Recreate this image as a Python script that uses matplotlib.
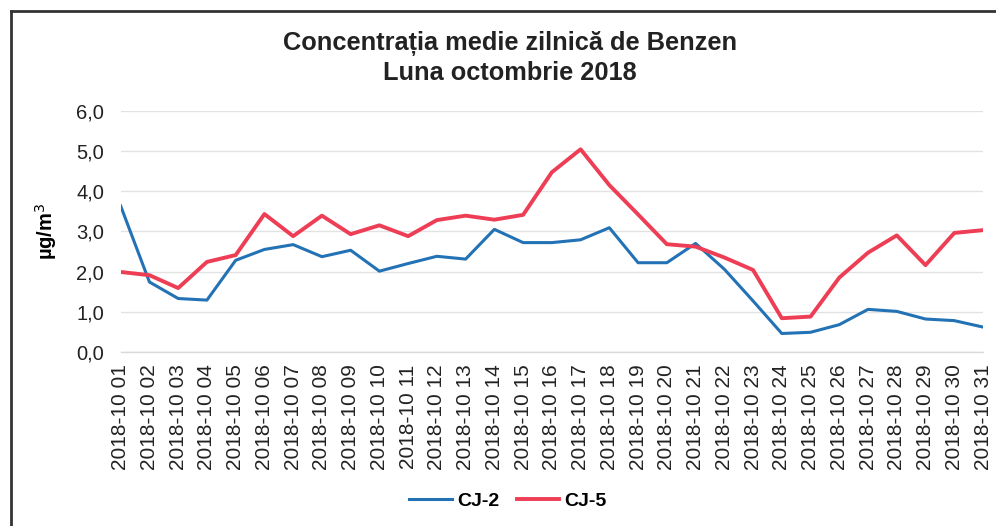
import matplotlib
matplotlib.use("Agg")
import matplotlib.pyplot as plt
from matplotlib.lines import Line2D

plt.rcParams['font.family'] = ['Liberation Sans', 'DejaVu Sans']

dates = ["2018-10 %02d" % d for d in range(1, 32)]
cj2 = [3.63, 1.74, 1.33, 1.29, 2.28, 2.55, 2.67, 2.37, 2.53, 2.01, 2.20, 2.38, 2.31, 3.05, 2.72,
       2.72, 2.79, 3.09, 2.22, 2.22, 2.70, 2.06, 1.27, 0.46, 0.49, 0.68, 1.06, 1.01, 0.82, 0.78, 0.62]
cj5 = [1.99, 1.91, 1.59, 2.24, 2.41, 3.43, 2.88, 3.39, 2.93, 3.15, 2.88, 3.28, 3.39, 3.29, 3.41,
       4.47, 5.04, 4.15, 3.42, 2.68, 2.62, 2.35, 2.04, 0.84, 0.88, 1.85, 2.47, 2.90, 2.16, 2.96, 3.03]
yticks = [0, 1, 2, 3, 4, 5, 6]
ytick_labels = ["0,0", "1,0", "2,0", "3,0", "4,0", "5,0", "6,0"]

W, H = 996, 526
fig = plt.figure(figsize=(W / 100, H / 100), dpi=100)
fig.patch.set_facecolor('white')

left, right, top, bottom = 120.7, 983, 110.7, 352
ax = fig.add_axes([left / W, 1 - bottom / H, (right - left) / W, (bottom - top) / H])
x = list(range(len(dates)))
ax.plot(x, cj2, color='#2372b5', lw=2.2, label='CJ-2', solid_joinstyle='round')
ax.plot(x, cj5, color='#ee3e56', lw=2.8, label='CJ-5', solid_joinstyle='round')
ax.set_xlim(0, len(dates) - 1)
ax.set_ylim(0, 6)
ax.set_yticks(yticks)
ax.set_yticklabels(ytick_labels, fontsize=14.5, color='#222222')
ax.set_xticks(x)
ax.set_xticklabels(dates, rotation=90, fontsize=15, color='#222222')
ax.tick_params(axis='both', length=0)
ax.tick_params(axis='y', pad=12)
ax.tick_params(axis='x', pad=9)
ax.grid(axis='y', color='#e2e2e2', lw=1)
ax.set_axisbelow(True)
for s in ['top', 'right', 'left']:
    ax.spines[s].set_visible(False)
ax.spines['bottom'].set_color('#d9d9d9')
ax.spines['bottom'].set_linewidth(1)

ax.set_ylabel('µg/m$^3$', fontsize=14.5, fontweight='bold', labelpad=12)

fig.text(510 / W, 1 - 43 / H, 'Concentrația medie zilnică de Benzen', ha='center', va='center',
         fontsize=18.3, fontweight='bold', color='#222222')
fig.text(510 / W, 1 - 73 / H, 'Luna octombrie 2018', ha='center', va='center',
         fontsize=18.3, fontweight='bold', color='#222222')

handles = [Line2D([], [], color='#2372b5', lw=2.2), Line2D([], [], color='#ee3e56', lw=2.8)]
fig.legend(handles, ['CJ-2', 'CJ-5'], loc='center', bbox_to_anchor=(508 / W, 1 - 501 / H), ncol=2,
           frameon=False, prop={'size': 14, 'weight': 'bold'}, handlelength=2.2, handletextpad=0.25,
           columnspacing=0.9)

fig.add_artist(Line2D([11 / W, 11 / W], [0, 1 - 11 / H], color='#333333', lw=2))
fig.add_artist(Line2D([11 / W, 1], [1 - 11 / H, 1 - 11 / H], color='#333333', lw=2))

fig.savefig('out.png', dpi=100, facecolor='white')
